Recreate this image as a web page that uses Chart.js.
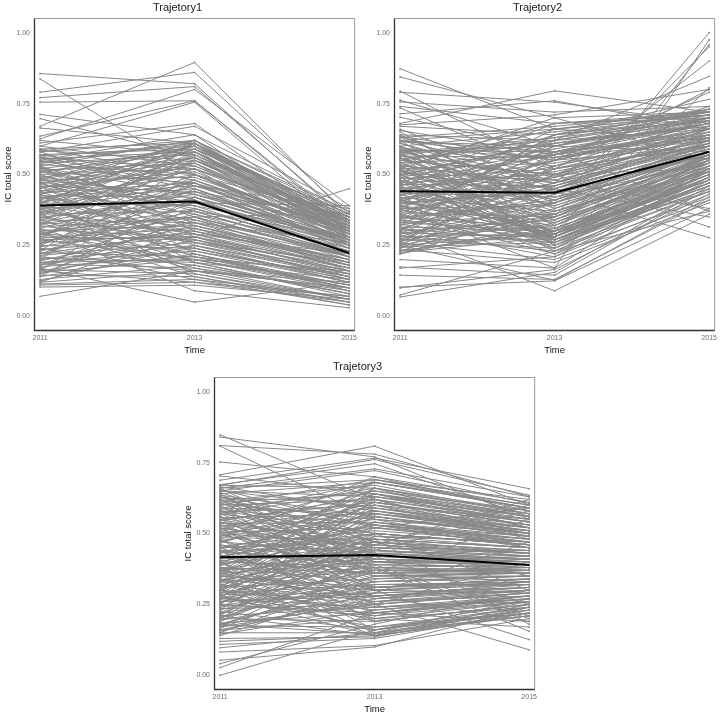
<!DOCTYPE html>
<html>
<head>
<meta charset="utf-8">
<script src="https://cdn.jsdelivr.net/npm/chart.js@4.4.0/dist/chart.umd.min.js"></script>
<style>
html,body{margin:0;padding:0;background:#ffffff;}
#wrap{position:relative;width:720px;height:714px;overflow:hidden;}
.panel{position:absolute;width:360px;height:360px;}
</style>
</head>
<body>
<div id="wrap">
  <div class="panel" style="left:0px;top:0px"><canvas id="c1"></canvas></div>
  <div class="panel" style="left:360px;top:0px"><canvas id="c2"></canvas></div>
  <div class="panel" style="left:180px;top:359px"><canvas id="c3"></canvas></div>
</div>
<script>
// ---- categories / ticks ----
const years = [2011, 2013, 2015];
const yTicks = [0, 0.25, 0.5, 0.75, 1.0];
const panelTitles = ["Trajetory1", "Trajetory2", "Trajetory3"];
const xTitle = "Time";
const yTitle = "IC total score";

// ---- mean trajectories (black lines) ----
const traj1Mean = [0.391, 0.405, 0.223];
const traj2Mean = [0.441, 0.436, 0.580];
const traj3Mean = [0.416, 0.424, 0.389];

// ---- individual trajectories [2011, 2013, 2015] ----
const traj1 = [
[0.856,0.82,0.33],[0.837,0.50,0.30],[0.79,0.86,0.36],[0.771,0.81,0.34],[0.755,0.76,0.31],
[0.712,0.64,0.28],[0.697,0.56,0.25],[0.67,0.895,0.35],[0.664,0.61,0.27],[0.635,0.76,0.32],
[0.626,0.80,0.39],[0.611,0.68,0.30],[0.60,0.755,0.29],[0.58,0.67,0.38],[0.55,0.64,0.37],
[0.0705,0.16,0.10],[0.103,0.11,0.06],[0.11,0.12,0.05],[0.114,0.13,0.04],[0.17,0.05,0.12],
[0.30,0.09,0.03],[0.16,0.12,0.07],
[0.59,0.61,0.33],[0.585,0.55,0.30],[0.58,0.62,0.36],[0.57,0.48,0.27],[0.565,0.60,0.31],
[0.56,0.52,0.34],[0.555,0.58,0.29],[0.55,0.45,0.24],[0.545,0.61,0.35],[0.54,0.57,0.32],
[0.535,0.50,0.26],[0.53,0.62,0.30],[0.525,0.43,0.28],[0.52,0.59,0.36],[0.515,0.54,0.25],
[0.51,0.47,0.31],[0.505,0.60,0.33],[0.50,0.52,0.22],[0.495,0.40,0.27],[0.49,0.56,0.34],
[0.485,0.61,0.29],[0.48,0.49,0.30],[0.475,0.38,0.23],[0.47,0.55,0.35],[0.465,0.58,0.31],
[0.46,0.44,0.26],[0.455,0.51,0.28],[0.45,0.62,0.37],[0.445,0.36,0.20],[0.44,0.53,0.32],
[0.435,0.47,0.24],[0.43,0.59,0.33],[0.425,0.42,0.27],[0.42,0.34,0.19],[0.415,0.50,0.29],
[0.41,0.56,0.30],[0.405,0.45,0.25],[0.40,0.39,0.21],[0.395,0.61,0.34],[0.39,0.31,0.17],
[0.385,0.48,0.28],[0.38,0.41,0.23],[0.375,0.54,0.31],[0.37,0.29,0.15],[0.365,0.44,0.26],
[0.36,0.37,0.22],[0.355,0.52,0.30],[0.35,0.26,0.14],[0.345,0.43,0.27],[0.34,0.33,0.18],
[0.335,0.58,0.32],[0.33,0.30,0.20],[0.325,0.40,0.24],[0.32,0.24,0.12],[0.315,0.35,0.21],
[0.31,0.46,0.29],[0.305,0.28,0.16],[0.30,0.32,0.19],[0.295,0.22,0.11],[0.29,0.38,0.23],
[0.285,0.50,0.28],[0.28,0.27,0.15],[0.275,0.31,0.20],[0.27,0.20,0.09],[0.265,0.35,0.22],
[0.26,0.29,0.17],[0.255,0.42,0.26],[0.25,0.24,0.13],[0.245,0.33,0.21],[0.24,0.18,0.08],
[0.235,0.28,0.18],[0.23,0.36,0.24],[0.225,0.21,0.10],[0.22,0.30,0.19],[0.215,0.26,0.16],
[0.21,0.45,0.27],[0.205,0.19,0.07],[0.20,0.25,0.14],[0.195,0.32,0.20],[0.19,0.23,0.12],
[0.185,0.17,0.06],[0.18,0.28,0.16],[0.175,0.21,0.11],[0.17,0.34,0.22],[0.165,0.15,0.05],
[0.16,0.24,0.13],[0.155,0.20,0.10],[0.15,0.27,0.17],[0.145,0.14,0.04],[0.14,0.22,0.09],
[0.13,0.18,0.08],[0.125,0.25,0.15],[0.12,0.16,0.06],[0.58,0.41,0.25],[0.52,0.37,0.21],
[0.47,0.32,0.18],[0.43,0.27,0.14],[0.36,0.55,0.33],[0.28,0.48,0.30],[0.22,0.40,0.25],
[0.27,0.28,0.45],[0.35,0.40,0.39],[0.42,0.46,0.38],[0.30,0.35,0.365],
[0.57,0.30,0.17],[0.53,0.22,0.10],[0.49,0.28,0.13],[0.46,0.19,0.08],[0.44,0.25,0.12],
[0.41,0.15,0.06],[0.38,0.23,0.14],[0.34,0.17,0.09],[0.31,0.14,0.05],[0.29,0.20,0.11],
[0.14,0.42,0.26],[0.16,0.50,0.29],[0.18,0.38,0.23],[0.20,0.55,0.31],[0.23,0.58,0.33],
[0.25,0.47,0.27],[0.27,0.61,0.34],[0.32,0.57,0.30],[0.12,0.31,0.18],[0.15,0.35,0.21],
[0.48,0.43,0.31],[0.51,0.39,0.28],[0.56,0.46,0.32],[0.59,0.50,0.35],[0.44,0.60,0.27],
[0.40,0.52,0.33],[0.37,0.47,0.25],[0.33,0.44,0.34],[0.29,0.42,0.21],[0.26,0.37,0.28],
[0.53,0.35,0.16],[0.50,0.33,0.26],[0.47,0.29,0.22],[0.42,0.26,0.19],[0.39,0.21,0.15],
[0.36,0.19,0.13],[0.33,0.16,0.10],[0.24,0.13,0.07],[0.21,0.16,0.12],[0.19,0.20,0.16],
[0.62,0.57,0.33],[0.60,0.53,0.30],[0.57,0.59,0.26],[0.54,0.62,0.32],[0.51,0.58,0.28],
[0.48,0.60,0.36],[0.45,0.56,0.34],[0.43,0.54,0.29],[0.40,0.61,0.31],[0.38,0.59,0.35]
];

const traj2 = [
[0.873,0.66,0.62],[0.844,0.70,0.55],[0.794,0.52,0.60],[0.79,0.755,0.68],[0.762,0.60,0.58],
[0.756,0.72,0.74],[0.74,0.68,0.70],[0.735,0.50,0.52],[0.714,0.76,0.66],[0.702,0.58,0.63],
[0.68,0.795,0.72],[0.675,0.71,0.80],[0.67,0.64,0.765],
[0.45,0.35,1.00],[0.38,0.17,0.975],[0.52,0.28,0.958],[0.60,0.40,0.95],[0.33,0.47,0.90],
[0.57,0.62,0.846],[0.41,0.30,0.806],[0.25,0.52,0.80],[0.62,0.55,0.79],
[0.20,0.17,0.52],[0.174,0.145,0.45],[0.17,0.21,0.48],[0.145,0.13,0.41],[0.103,0.125,0.38],
[0.10,0.165,0.43],[0.075,0.23,0.37],[0.068,0.155,0.46],[0.30,0.09,0.36],[0.25,0.127,0.42],
[0.40,0.44,0.277],[0.55,0.50,0.315],[0.50,0.45,0.35],[0.62,0.58,0.37],[0.58,0.48,0.38],
[0.64,0.62,0.70],[0.635,0.55,0.66],[0.63,0.67,0.72],[0.62,0.49,0.61],[0.615,0.60,0.68],
[0.61,0.44,0.57],[0.60,0.65,0.71],[0.595,0.53,0.64],[0.59,0.38,0.55],[0.585,0.58,0.69],
[0.58,0.47,0.60],[0.575,0.63,0.73],[0.57,0.41,0.58],[0.565,0.56,0.65],[0.56,0.34,0.52],
[0.555,0.61,0.67],[0.55,0.50,0.62],[0.545,0.29,0.49],[0.54,0.57,0.70],[0.535,0.45,0.59],
[0.53,0.66,0.71],[0.525,0.39,0.56],[0.52,0.54,0.63],[0.515,0.31,0.50],[0.51,0.59,0.68],
[0.505,0.48,0.61],[0.50,0.27,0.47],[0.495,0.62,0.72],[0.49,0.43,0.57],[0.485,0.52,0.64],
[0.48,0.36,0.54],[0.475,0.57,0.66],[0.47,0.28,0.48],[0.465,0.46,0.60],[0.46,0.64,0.69],
[0.455,0.40,0.55],[0.45,0.51,0.62],[0.445,0.30,0.51],[0.44,0.55,0.67],[0.435,0.42,0.58],
[0.43,0.26,0.46],[0.425,0.60,0.70],[0.42,0.37,0.53],[0.415,0.49,0.63],[0.41,0.28,0.50],
[0.405,0.53,0.65],[0.40,0.33,0.52],[0.395,0.45,0.59],[0.39,0.24,0.44],[0.385,0.58,0.68],
[0.38,0.39,0.56],[0.375,0.29,0.48],[0.37,0.47,0.61],[0.365,0.35,0.54],[0.36,0.22,0.42],
[0.355,0.52,0.64],[0.35,0.31,0.51],[0.345,0.41,0.57],[0.34,0.27,0.47],[0.335,0.56,0.66],
[0.33,0.36,0.55],[0.325,0.25,0.45],[0.32,0.44,0.60],[0.315,0.30,0.50],[0.31,0.21,0.43],
[0.305,0.50,0.62],[0.30,0.34,0.53],[0.295,0.28,0.49],[0.29,0.40,0.58],[0.285,0.23,0.44],
[0.28,0.46,0.61],[0.275,0.32,0.52],[0.27,0.27,0.46],[0.265,0.37,0.56],[0.26,0.20,0.41],
[0.255,0.43,0.59],[0.25,0.29,0.50],[0.245,0.26,0.47],[0.24,0.35,0.54],[0.235,0.19,0.40],
[0.23,0.31,0.51],[0.225,0.28,0.48],[0.22,0.38,0.57],[0.62,0.29,0.53],[0.57,0.27,0.49],
[0.50,0.30,0.58],[0.44,0.28,0.55],[0.36,0.62,0.66],[0.30,0.57,0.63],[0.26,0.53,0.69],
[0.52,0.70,0.72],[0.47,0.68,0.71],[0.40,0.66,0.73],[0.34,0.64,0.70],[0.58,0.26,0.45],
[0.48,0.24,0.52],[0.42,0.22,0.49],[0.66,0.45,0.64],[0.65,0.35,0.60],[0.655,0.57,0.74],
[0.60,0.32,0.56],[0.56,0.25,0.51],[0.53,0.28,0.54],[0.49,0.23,0.47],[0.46,0.27,0.50],
[0.43,0.29,0.57],[0.39,0.26,0.53],[0.35,0.28,0.52],[0.31,0.26,0.46],[0.28,0.29,0.55],
[0.24,0.45,0.62],[0.27,0.50,0.66],[0.29,0.55,0.68],[0.32,0.60,0.71],[0.23,0.40,0.58],
[0.26,0.58,0.70],[0.35,0.64,0.72],[0.38,0.61,0.67],[0.22,0.33,0.53],[0.25,0.36,0.56],
[0.63,0.52,0.60],[0.61,0.47,0.65],[0.59,0.56,0.62],[0.57,0.42,0.54],[0.55,0.63,0.69],
[0.53,0.47,0.66],[0.51,0.41,0.61],[0.49,0.58,0.64],[0.47,0.50,0.70],[0.45,0.34,0.57],
[0.43,0.46,0.63],[0.41,0.55,0.60],[0.39,0.32,0.55],[0.37,0.49,0.67],[0.35,0.40,0.62],
[0.33,0.30,0.48],[0.31,0.45,0.59],[0.29,0.35,0.57],[0.27,0.24,0.49],[0.23,0.30,0.52],
[0.64,0.38,0.58],[0.62,0.66,0.71],[0.60,0.25,0.47],[0.58,0.60,0.73],[0.56,0.37,0.51],
[0.54,0.68,0.72],[0.52,0.33,0.55],[0.50,0.61,0.69],[0.48,0.27,0.44],[0.46,0.57,0.68]
];

const traj3 = [
[0.848,0.62,0.50],[0.84,0.77,0.55],[0.81,0.78,0.63],[0.808,0.55,0.45],[0.752,0.70,0.58],
[0.707,0.808,0.60],[0.703,0.64,0.52],[0.688,0.766,0.658],[0.67,0.761,0.635],[0.672,0.746,0.56],
[0.66,0.728,0.629],[0.65,0.722,0.606],[0.60,0.69,0.62],
[0.12,0.14,0.25],[0.109,0.13,0.22],[0.097,0.15,0.27],[0.082,0.105,0.20],[0.053,0.10,0.24],
[0.041,0.18,0.30],[0.027,0.22,0.28],[0.0,0.16,0.26],
[0.30,0.25,0.09],[0.35,0.30,0.126],[0.40,0.38,0.155],[0.28,0.20,0.17],[0.45,0.48,0.18],
[0.25,0.22,0.19],[0.13,0.135,0.24],[0.21,0.14,0.21],[0.18,0.145,0.23],
[0.67,0.66,0.56],[0.665,0.58,0.50],[0.66,0.69,0.59],[0.655,0.52,0.47],[0.65,0.63,0.54],
[0.645,0.47,0.43],[0.64,0.68,0.60],[0.635,0.56,0.49],[0.63,0.42,0.41],[0.625,0.61,0.53],
[0.62,0.50,0.46],[0.615,0.67,0.57],[0.61,0.38,0.39],[0.605,0.55,0.51],[0.60,0.62,0.48],
[0.595,0.45,0.44],[0.59,0.65,0.58],[0.585,0.53,0.45],[0.58,0.35,0.36],[0.575,0.60,0.55],
[0.57,0.49,0.47],[0.565,0.66,0.52],[0.56,0.41,0.40],[0.555,0.57,0.50],[0.55,0.31,0.34],
[0.545,0.63,0.56],[0.54,0.46,0.43],[0.535,0.54,0.49],[0.53,0.37,0.38],[0.525,0.59,0.53],
[0.52,0.44,0.42],[0.515,0.68,0.59],[0.51,0.33,0.35],[0.505,0.52,0.46],[0.50,0.58,0.51],
[0.495,0.40,0.40],[0.49,0.62,0.54],[0.485,0.48,0.45],[0.48,0.28,0.31],[0.475,0.55,0.50],
[0.47,0.43,0.41],[0.465,0.64,0.55],[0.46,0.35,0.36],[0.455,0.51,0.47],[0.45,0.25,0.29],
[0.445,0.57,0.52],[0.44,0.45,0.43],[0.435,0.39,0.38],[0.43,0.60,0.49],[0.425,0.30,0.33],
[0.42,0.50,0.46],[0.415,0.42,0.40],[0.41,0.66,0.57],[0.405,0.36,0.37],[0.40,0.53,0.48],
[0.395,0.22,0.27],[0.39,0.47,0.44],[0.385,0.58,0.50],[0.38,0.33,0.35],[0.375,0.44,0.42],
[0.37,0.27,0.30],[0.365,0.54,0.47],[0.36,0.40,0.39],[0.355,0.61,0.53],[0.35,0.31,0.34],
[0.345,0.48,0.45],[0.34,0.19,0.25],[0.335,0.43,0.41],[0.33,0.56,0.49],[0.325,0.37,0.37],
[0.32,0.26,0.29],[0.315,0.50,0.46],[0.31,0.34,0.35],[0.305,0.45,0.42],[0.30,0.23,0.28],
[0.295,0.59,0.51],[0.29,0.39,0.38],[0.285,0.29,0.31],[0.28,0.47,0.44],[0.275,0.17,0.24],
[0.27,0.36,0.36],[0.265,0.52,0.48],[0.26,0.28,0.30],[0.255,0.42,0.40],[0.25,0.21,0.26],
[0.245,0.33,0.34],[0.24,0.49,0.45],[0.235,0.25,0.29],[0.23,0.38,0.37],[0.225,0.16,0.23],
[0.22,0.30,0.32],[0.215,0.44,0.41],[0.21,0.24,0.27],[0.205,0.35,0.35],[0.20,0.19,0.25],
[0.195,0.28,0.30],[0.19,0.41,0.39],[0.185,0.22,0.26],[0.18,0.32,0.33],[0.175,0.17,0.22],
[0.17,0.26,0.28],[0.165,0.37,0.36],[0.16,0.20,0.24],[0.155,0.29,0.31],[0.15,0.15,0.21],
[0.145,0.23,0.27],[0.14,0.31,0.32],[0.62,0.40,0.37],[0.57,0.36,0.33],[0.52,0.30,0.29],
[0.44,0.24,0.26],[0.36,0.64,0.56],[0.30,0.60,0.52],[0.25,0.56,0.50],[0.20,0.50,0.46],
[0.48,0.70,0.61],[0.39,0.68,0.59],[0.55,0.44,0.58],[0.33,0.46,0.60],[0.46,0.39,0.21],
[0.66,0.40,0.42],[0.64,0.36,0.38],[0.62,0.30,0.33],[0.60,0.27,0.31],[0.58,0.43,0.44],
[0.56,0.25,0.30],[0.54,0.39,0.41],[0.52,0.22,0.27],[0.50,0.34,0.37],[0.48,0.19,0.25],
[0.46,0.31,0.34],[0.44,0.16,0.22],[0.42,0.28,0.32],[0.40,0.20,0.26],[0.38,0.15,0.23],
[0.36,0.26,0.30],[0.34,0.14,0.21],[0.32,0.21,0.28],[0.30,0.16,0.24],[0.28,0.14,0.22],
[0.15,0.35,0.36],[0.17,0.42,0.40],[0.19,0.48,0.45],[0.21,0.53,0.49],[0.23,0.58,0.52],
[0.25,0.62,0.55],[0.27,0.66,0.58],[0.29,0.54,0.48],[0.31,0.64,0.54],[0.33,0.69,0.60],
[0.35,0.57,0.51],[0.37,0.63,0.56],[0.16,0.27,0.33],[0.18,0.33,0.35],[0.20,0.40,0.39],
[0.22,0.46,0.43],[0.24,0.31,0.33],[0.26,0.37,0.37],[0.28,0.43,0.40],[0.30,0.49,0.47],
[0.65,0.59,0.52],[0.63,0.53,0.48],[0.61,0.64,0.57],[0.59,0.57,0.50],[0.57,0.68,0.59],
[0.55,0.61,0.54],[0.53,0.48,0.43],[0.51,0.65,0.56],[0.49,0.56,0.49],[0.47,0.61,0.53],
[0.45,0.47,0.42],[0.43,0.53,0.47],[0.41,0.44,0.41],[0.39,0.50,0.46],[0.37,0.41,0.38],
[0.35,0.46,0.43],[0.33,0.38,0.36],[0.31,0.42,0.39],[0.29,0.32,0.32],[0.27,0.24,0.28],
[0.50,0.46,0.62],[0.42,0.52,0.59],[0.38,0.36,0.55],[0.26,0.29,0.47],[0.18,0.25,0.40],
[0.58,0.50,0.30],[0.52,0.42,0.25],[0.44,0.38,0.20],[0.34,0.28,0.19],[0.63,0.47,0.35]
];

// ---- rendering ----
const FONT = "'Liberation Sans', Arial, Helvetica, sans-serif";
const GRAY = '#878787';

const framePlugin = {
  id: 'frame',
  afterDatasetsDraw(chart) {
    const a = chart.chartArea, ctx = chart.ctx;
    ctx.save();
    ctx.lineWidth = 1;
    ctx.strokeStyle = '#9a9a9a';
    ctx.beginPath();
    ctx.moveTo(a.left, a.top); ctx.lineTo(a.right, a.top); ctx.lineTo(a.right, a.bottom);
    ctx.stroke();
    ctx.lineWidth = 1.3;
    ctx.strokeStyle = '#333333';
    ctx.beginPath();
    ctx.moveTo(a.left, a.top); ctx.lineTo(a.left, a.bottom); ctx.lineTo(a.right, a.bottom);
    ctx.stroke();
    ctx.restore();
  }
};

function toPoints(vals) {
  return years.map((yr, i) => ({ x: yr, y: vals[i] }));
}

function makeChart(id, title, traj, mean) {
  const datasets = [{
    data: toPoints(mean),
    borderColor: '#000000',
    borderWidth: 2,
    pointRadius: 0,
    fill: false,
    tension: 0
  }];
  traj.forEach(t => datasets.push({
    data: toPoints(t),
    borderColor: GRAY,
    borderWidth: 1,
    pointRadius: 0.9,
    pointBorderWidth: 0,
    pointBackgroundColor: GRAY,
    fill: false,
    tension: 0
  }));
  return new Chart(document.getElementById(id), {
    type: 'line',
    data: { datasets },
    options: {
      responsive: true,
      maintainAspectRatio: false,
      animation: false,
      events: [],
      layout: { padding: { left: 0, right: 5, top: 0, bottom: 0 } },
      plugins: {
        legend: { display: false },
        tooltip: { enabled: false },
        title: {
          display: true,
          text: title,
          color: '#1a1a1a',
          font: { family: FONT, size: 11, weight: 'normal', lineHeight: 1.2 },
          padding: { top: 1, bottom: 4.3 }
        }
      },
      scales: {
        x: {
          type: 'linear',
          min: 2010.928,
          max: 2015.072,
          grid: { display: false, drawTicks: false },
          border: { display: false },
          afterBuildTicks: s => { s.ticks = years.map(v => ({ value: v })); },
          afterFit: s => { s.height = 29.5; },
          ticks: {
            padding: 3,
            color: '#6e6e6e',
            font: { family: FONT, size: 7 },
            maxRotation: 0,
            autoSkip: false,
            callback: v => String(v)
          },
          title: {
            display: true,
            text: xTitle,
            color: '#111111',
            font: { family: FONT, size: 9.5 },
            padding: { top: 0, bottom: 4.3 }
          }
        },
        y: {
          type: 'linear',
          min: -0.05,
          max: 1.05,
          grid: { display: false, drawTicks: false },
          border: { display: false },
          afterBuildTicks: s => { s.ticks = yTicks.map(v => ({ value: v })); },
          afterFit: s => { s.width = 34.5; },
          ticks: {
            padding: 4.5,
            color: '#6e6e6e',
            font: { family: FONT, size: 7 },
            autoSkip: false,
            callback: v => Number(v).toFixed(2)
          },
          title: {
            display: true,
            text: yTitle,
            color: '#111111',
            font: { family: FONT, size: 9.5 },
            padding: { top: 2.6, bottom: 0 }
          }
        }
      }
    },
    plugins: [framePlugin]
  });
}

makeChart('c1', panelTitles[0], traj1, traj1Mean);
makeChart('c2', panelTitles[1], traj2, traj2Mean);
makeChart('c3', panelTitles[2], traj3, traj3Mean);
</script>
</body>
</html>
